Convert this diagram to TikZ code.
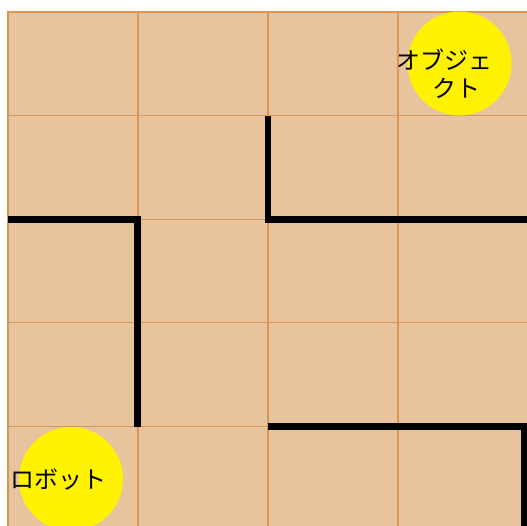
\documentclass[tikz,border=0pt]{standalone}
\usepackage{fontspec}
\newfontfamily\jp{Noto Sans CJK JP}
\definecolor{cellfill}{RGB}{231,196,158}
\definecolor{gridc}{RGB}{218,150,85}
\tikzset{
  cell/.style={fill=cellfill, draw=gridc, line width=1.2pt},
  wall/.style={draw=black, line width=6.5pt, line join=miter},
  disc/.style={circle, fill=yellow, draw=none, minimum size=104pt, inner sep=0pt},
  lab/.style={font=\jp\fontsize{24}{28}\selectfont, text=black, align=center, inner sep=0pt}
}
\begin{document}
\begin{tikzpicture}[x=1pt,y=-1pt]
\useasboundingbox (0,0) rectangle (527,526);
\clip (0,0) rectangle (527,526);
\foreach \i in {0,...,3}{
  \foreach \j in {0,...,4}{
    \path[cell] ({8+130*\i},{12+103.6*\j}) rectangle ({8+130*(\i+1)},{12+103.6*(\j+1)});
  }
}
% walls
\coordinate (w1a) at (268,116);
\coordinate (w1b) at (268,219.5);
\coordinate (w1c) at (531,219.5);
\coordinate (w2a) at (8,219.5);
\coordinate (w2b) at (137.5,219.5);
\coordinate (w2c) at (137.5,427);
\coordinate (w3a) at (268,426.5);
\coordinate (w3b) at (524,426.5);
\coordinate (w3c) at (524,532);
\draw[wall] (w1a) -- (w1b) -- (w1c);
\draw[wall] (w2a) -- (w2b) -- (w2c);
\draw[wall] (w3a) -- (w3b) -- (w3c);
% discs
\node[disc] (obj) at (459.5,63.5) {};
\node[lab] (objlab) at (456.5,74) {オブジェ\hspace*{24pt}\\クト};
\node[disc] (robot) at (71,479) {};
\node[lab] (robotlab) at (58.5,480) {ロボット};
\end{tikzpicture}
\end{document}
